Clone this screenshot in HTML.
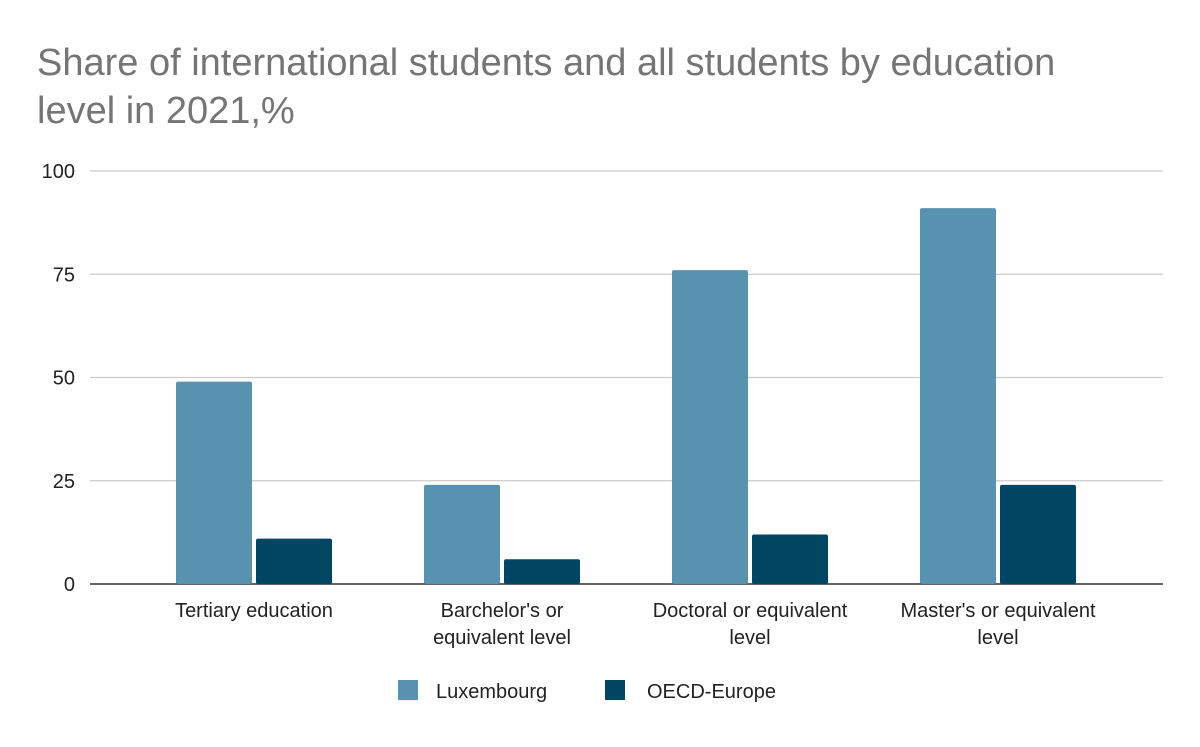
<!DOCTYPE html>
<html><head><meta charset="utf-8">
<style>
body{margin:0;background:#fff;width:1200px;height:742px;overflow:hidden;font-family:"Liberation Sans",sans-serif;}
</style></head>
<body>
<svg id="chart" width="1200" height="742" viewBox="0 0 1200 742" xmlns="http://www.w3.org/2000/svg">
<rect width="1200" height="742" fill="#fff"/>
<text x="37" y="75" font-size="38" fill="#757575">Share of international students and all students by education</text>
<text x="37" y="123" font-size="38" fill="#757575">level in 2021,%</text>
<g id="grid"></g>
<g id="bars"></g>
<g id="xlabels"></g>
<g>
<rect x="398" y="680" width="20" height="20" fill="#5793b0"/>
<text x="436" y="698" font-size="20" fill="#222">Luxembourg</text>
<rect x="605" y="680" width="20" height="20" fill="#024663"/>
<text x="647" y="698" font-size="20" fill="#222">OECD-Europe</text>
</g>
</svg>
<script>
const categories = [["Tertiary education"],["Barchelor's or","equivalent level"],["Doctoral or equivalent","level"],["Master's or equivalent","level"]];
const luxembourg = [49, 24, 76, 91];
const oecdEurope = [11, 6, 12, 24];
const yTicks = [0, 25, 50, 75, 100];

const NS = "http://www.w3.org/2000/svg";
const y0 = 584, y1 = 171, yMax = 100;
const bandStart = 130, band = 248;
const y = v => y0 - (v / yMax) * (y0 - y1);
const xc = i => bandStart + band * i + band / 2;
function mk(tag, attrs, parent){const e=document.createElementNS(NS,tag);for(const k in attrs)e.setAttribute(k,attrs[k]);parent.appendChild(e);return e;}
const grid = document.getElementById('grid'), bars = document.getElementById('bars'), xl = document.getElementById('xlabels');
yTicks.forEach(t=>{
  const l = mk('line',{x1:90,x2:1163,y1:y(t),y2:y(t),stroke:t===0?'#333':'#ccc','stroke-width':t===0?1.5:1.2},grid);
  
  
  const tx = mk('text',{x:75,y:y(t)+7,'text-anchor':'end','font-size':20,fill:'#222'},grid);
  tx.textContent = t;
  
  
});
categories.forEach((c,i)=>{
  const cx = xc(i);
  const b1 = mk('rect',{x:cx-78,y:y(luxembourg[i]),width:76,height:y0-y(luxembourg[i]),fill:'#5793b0',rx:2},bars);
  
  
  const b2 = mk('rect',{x:cx+2,y:y(oecdEurope[i]),width:76,height:y0-y(oecdEurope[i]),fill:'#024663',rx:2},bars);
  
  
  c.forEach((line,j)=>{
    const t = mk('text',{x:cx,y:617+j*27,'text-anchor':'middle','font-size':20,fill:'#222'},xl);
    t.textContent = line;
    
    
  });
});
</script>
</body></html>
